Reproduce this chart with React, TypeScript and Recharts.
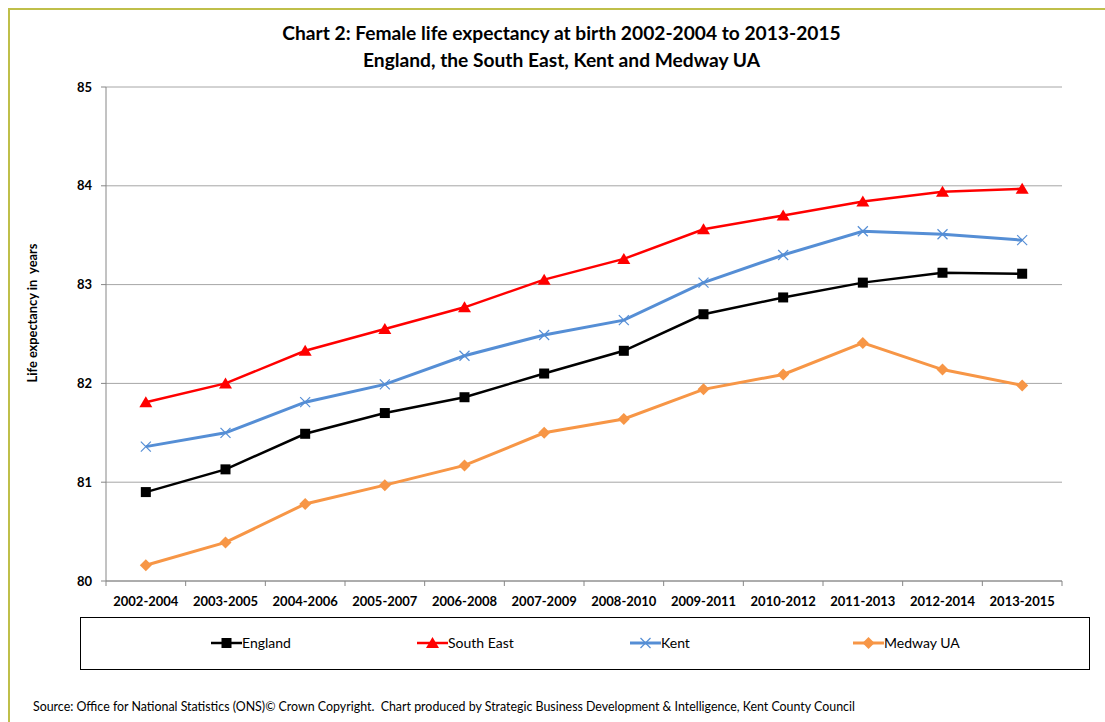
import { LineChart, Line, XAxis, YAxis, CartesianGrid } from 'recharts'

// ── Data ─────────────────────────────────────────────────────────────────────

const PERIODS = [
  '2002-2004', '2003-2005', '2004-2006', '2005-2007', '2006-2008', '2007-2009',
  '2008-2010', '2009-2011', '2010-2012', '2011-2013', '2012-2014', '2013-2015',
]
const ENGLAND    = [80.90, 81.13, 81.49, 81.70, 81.86, 82.10, 82.33, 82.70, 82.87, 83.02, 83.12, 83.11]
const SOUTH_EAST = [81.81, 82.00, 82.33, 82.55, 82.77, 83.05, 83.26, 83.56, 83.70, 83.84, 83.94, 83.97]
const KENT       = [81.36, 81.50, 81.81, 81.99, 82.28, 82.49, 82.64, 83.02, 83.30, 83.54, 83.51, 83.45]
const MEDWAY     = [80.16, 80.39, 80.78, 80.97, 81.17, 81.50, 81.64, 81.94, 82.09, 82.41, 82.14, 81.98]
const Y_TICKS    = [80, 81, 82, 83, 84, 85]

const data = PERIODS.map((p, i) => ({
  period: p,
  england: ENGLAND[i],
  southEast: SOUTH_EAST[i],
  kent: KENT[i],
  medway: MEDWAY[i],
}))

// ── Styles ───────────────────────────────────────────────────────────────────

const FONT   = 'Lato, "Open Sans", sans-serif'
const AXIS   = '#868686'
const GRID   = '#A6A6A6'
const BLACK  = '#000000'
const RED    = '#FF0000'
const BLUE   = '#558ED5'
const ORANGE = '#F79646'

const W = 1105
const H = 722
const M = { top: 87, right: 43, bottom: 111, left: 46 }
const Y_W = 60
const BAND = (W - M.left - Y_W - M.right) / PERIODS.length

// ── Markers ──────────────────────────────────────────────────────────────────

type Shape = 'square' | 'triangle' | 'cross' | 'diamond'

function Marker({ shape, cx, cy, color }: { shape: Shape; cx: number; cy: number; color: string }) {
  if (shape === 'square') return <rect x={cx - 5} y={cy - 5} width={10} height={10} fill={color} />
  if (shape === 'triangle')
    return <polygon points={`${cx},${cy - 6} ${cx + 6.5},${cy + 5} ${cx - 6.5},${cy + 5}`} fill={color} />
  if (shape === 'diamond')
    return <polygon points={`${cx},${cy - 6} ${cx + 6},${cy} ${cx},${cy + 6} ${cx - 6},${cy}`} fill={color} />
  return (
    <g stroke={color} strokeWidth={1.2}>
      <line x1={cx - 5} y1={cy - 5} x2={cx + 5} y2={cy + 5} />
      <line x1={cx - 5} y1={cy + 5} x2={cx + 5} y2={cy - 5} />
    </g>
  )
}

const dotOf = (shape: Shape, color: string) =>
  // eslint-disable-next-line @typescript-eslint/no-explicit-any
  (p: any) => <Marker key={`d-${p.index}`} shape={shape} cx={p.cx} cy={p.cy} color={color} />

// ── X tick: label at band centre, tick marks on band edges ───────────────────

// eslint-disable-next-line @typescript-eslint/no-explicit-any
function PeriodTick({ x, y, payload, index }: any) {
  const last = index === PERIODS.length - 1
  return (
    <g>
      <line x1={x - BAND / 2} y1={y} x2={x - BAND / 2} y2={y + 5} stroke={AXIS} />
      {last && <line x1={x + BAND / 2} y1={y} x2={x + BAND / 2} y2={y + 5} stroke={AXIS} />}
      <text x={x} y={y + 25} textAnchor="middle" fontSize={13} fontWeight={700} fill="#000" fontFamily={FONT}>
        {payload.value}
      </text>
    </g>
  )
}

// ── Legend ───────────────────────────────────────────────────────────────────

const LEGEND: { label: string; color: string; shape: Shape; left: number; width: number }[] = [
  { label: 'England',    color: BLACK,  shape: 'square',   left: 211, width: 2.5 },
  { label: 'South East', color: RED,    shape: 'triangle', left: 417, width: 2.5 },
  { label: 'Kent',       color: BLUE,   shape: 'cross',    left: 630, width: 3 },
  { label: 'Medway UA',  color: ORANGE, shape: 'diamond',  left: 853, width: 3 },
]

export default function App() {
  return (
    <div style={{ position: 'absolute', left: 0, top: 0, width: W, height: H, background: '#fff', fontFamily: FONT, overflow: 'hidden' }}>
      {/* frame */}
      <div style={{
        position: 'absolute', left: 8, top: 8, width: W - 8, height: H - 8, boxSizing: 'border-box',
        borderTop: '2px solid #BFBF4A', borderLeft: '2px solid #BFBF4A',
      }} />

      {/* title */}
      <div style={{ position: 'absolute', left: 0, width: 1123, top: 19, textAlign: 'center', fontSize: 19.2, fontWeight: 700, lineHeight: '27px', color: '#000' }}>
        Chart 2: Female life expectancy at birth 2002-2004 to 2013-2015<br />
        England, the South East, Kent and Medway UA
      </div>

      {/* y axis title */}
      <div style={{
        position: 'absolute', left: 32, top: 313, transform: 'translate(-50%, -50%) rotate(-90deg)',
        whiteSpace: 'pre', fontSize: 12.8, fontWeight: 700, color: '#000',
      }}>
        {'Life expectancy in  years'}
      </div>

      <div style={{ position: 'absolute', left: 0, top: 0 }}>
        <LineChart width={W} height={H} data={data} margin={M}>
          <CartesianGrid vertical={false} stroke={GRID} />
          <XAxis
            dataKey="period"
            scale="band"
            stroke={AXIS}
            tickLine={false}
            tickSize={0}
            tickMargin={0}
            height={30}
            interval={0}
            tick={<PeriodTick />}
          />
          <YAxis
            domain={[80, 85]}
            ticks={Y_TICKS}
            width={Y_W}
            stroke={AXIS}
            tickSize={5}
            tickMargin={9}
            tick={{ fill: '#000', fontSize: 13, fontWeight: 700, fontFamily: FONT }}
          />
          <Line dataKey="medway" stroke={ORANGE} strokeWidth={3} dot={dotOf('diamond', ORANGE)} activeDot={false} isAnimationActive={false} />
          <Line dataKey="england" stroke={BLACK} strokeWidth={2.5} dot={dotOf('square', BLACK)} activeDot={false} isAnimationActive={false} />
          <Line dataKey="kent" stroke={BLUE} strokeWidth={3} dot={dotOf('cross', BLUE)} activeDot={false} isAnimationActive={false} />
          <Line dataKey="southEast" stroke={RED} strokeWidth={2.5} dot={dotOf('triangle', RED)} activeDot={false} isAnimationActive={false} />
        </LineChart>
      </div>

      {/* legend */}
      <div style={{ position: 'absolute', left: 80, top: 617, width: 1010, height: 53, boxSizing: 'border-box', border: '1px solid #000' }} />
      {LEGEND.map(l => (
        <div key={l.label} style={{ position: 'absolute', left: l.left, top: 634, display: 'flex', alignItems: 'center', fontSize: 14, color: '#000' }}>
          <svg width={31} height={16} style={{ display: 'block' }}>
            <line x1={0} y1={8} x2={31} y2={8} stroke={l.color} strokeWidth={l.width} />
            <Marker shape={l.shape} cx={15.5} cy={8} color={l.color} />
          </svg>
          <span>{l.label}</span>
        </div>
      ))}

      {/* source */}
      <div style={{ position: 'absolute', left: 33, top: 699, fontSize: 12.4, color: '#000', whiteSpace: 'pre' }}>
        Source: Office for National Statistics (ONS)© Crown Copyright.  Chart produced by Strategic Business Development &amp; Intelligence, Kent County Council
      </div>
    </div>
  )
}
